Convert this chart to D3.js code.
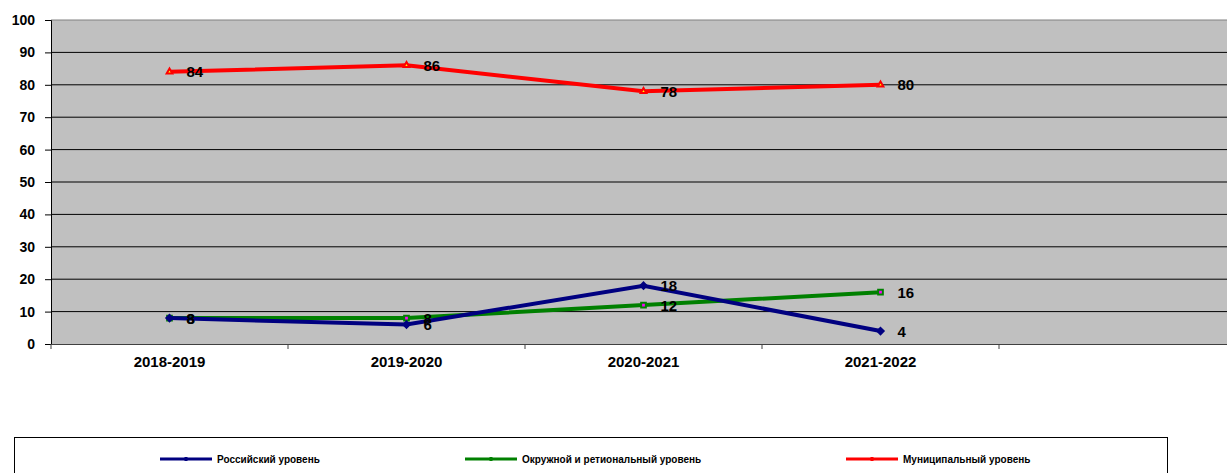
<!DOCTYPE html>
<html>
<head>
<meta charset="utf-8">
<script src="https://cdn.jsdelivr.net/npm/d3@7"></script>
<style>
  body { margin: 0; background: #fff; }
  text { font-family: "Liberation Sans", Arial, sans-serif; }
</style>
</head>
<body>
<script>
// данные
var years = ["2018-2019", "2019-2020", "2020-2021", "2021-2022", ""];
var russian = [8, 6, 18, 4];
var okrug = [8, 8, 12, 16];
var municipal = [84, 86, 78, 80];
var yTicks = [0, 10, 20, 30, 40, 50, 60, 70, 80, 90, 100];
var seriesNames = ["Российский уровень", "Окружной и ретиональный уровень", "Муниципальный уровень"];

var W = 1227, H = 473;
var m = { left: 51, top: 20, bottom: 344 };
var plotRight = 51 + 5 * 237;

var svg = d3.select("body").append("svg")
  .attr("width", W)
  .attr("height", H);

var x = d3.scaleBand().domain(years).range([m.left, plotRight]);
var y = d3.scaleLinear().domain([0, 100]).range([m.bottom, m.top]);

// фон
svg.append("rect")
  .attr("x", m.left).attr("y", m.top)
  .attr("width", plotRight - m.left).attr("height", m.bottom - m.top)
  .attr("fill", "#c0c0c0");

// сетка
svg.selectAll("line.grid")
  .data(yTicks.slice(1))
  .enter().append("line")
  .attr("x1", m.left).attr("x2", plotRight)
  .attr("y1", function(d) { return y(d); })
  .attr("y2", function(d) { return y(d); })
  .attr("stroke", function(d) { return d == 100 ? "#808080" : "#000"; })
  .attr("stroke-width", 1);

// ось Y
var yAxis = svg.append("g")
  .attr("transform", "translate(" + m.left + ",0)")
  .call(d3.axisLeft(y).tickValues(yTicks).tickSize(6).tickPadding(10));
yAxis.select(".domain").attr("stroke", "#000");
yAxis.selectAll("text").attr("font-size", 14).attr("font-weight", "bold").attr("fill", "#000");

// ось X
var xAxis = svg.append("g")
  .attr("transform", "translate(0," + m.bottom + ")")
  .call(d3.axisBottom(x).tickSize(0).tickPadding(12));
xAxis.select(".domain").attr("stroke", "#404040");
xAxis.selectAll("text").attr("font-size", 15).attr("font-weight", "bold").attr("fill", "#000");

svg.selectAll("line.xtick")
  .data(years)
  .enter().append("line")
  .attr("x1", function(d) { return x(d); })
  .attr("x2", function(d) { return x(d); })
  .attr("y1", m.bottom).attr("y2", m.bottom + 5)
  .attr("stroke", "#404040");

var cx = function(d, i) { return x(years[i]) + x.bandwidth() / 2; };
var line = d3.line()
  .x(function(d, i) { return x(years[i]) + x.bandwidth() / 2; })
  .y(function(d) { return y(d); });

var series = [
  { values: okrug, color: "#008000", marker: d3.symbolSquare, fill: "#ff00ff", size: 22 },
  { values: russian, color: "#000080", marker: d3.symbolDiamond2 || d3.symbolDiamond, fill: "#000080", size: 26 },
  { values: municipal, color: "#ff0000", marker: d3.symbolTriangle, fill: "#ffff00", size: 14 }
];

series.forEach(function(s) {
  svg.append("path")
    .datum(s.values)
    .attr("d", line)
    .attr("fill", "none")
    .attr("stroke", s.color)
    .attr("stroke-width", 4);

  svg.selectAll(null)
    .data(s.values)
    .enter().append("path")
    .attr("d", d3.symbol().type(s.marker).size(s.size))
    .attr("transform", function(d, i) { return "translate(" + cx(d, i) + "," + y(d) + ")"; })
    .attr("fill", s.fill)
    .attr("stroke", s.color)
    .attr("stroke-width", 2);
});

// подписи значений
var labelSets = [russian, okrug, municipal];
labelSets.forEach(function(vals) {
  svg.selectAll(null)
    .data(vals)
    .enter().append("text")
    .attr("x", function(d, i) { return cx(d, i) + 17; })
    .attr("y", function(d) { return y(d) + 5.5; })
    .attr("font-size", 15)
    .attr("font-weight", "bold")
    .attr("fill", "#000")
    .text(function(d) { return d; });
});

// легенда
svg.append("rect")
  .attr("x", 14.5).attr("y", 437.5)
  .attr("width", 1153).attr("height", 60)
  .attr("fill", "#fff")
  .attr("stroke", "#000");

var legendX = [160, 465, 846];
var legendColors = ["#000080", "#008000", "#ff0000"];
var leg = svg.selectAll("g.leg")
  .data(seriesNames)
  .enter().append("g")
  .attr("transform", function(d, i) { return "translate(" + legendX[i] + ",459)"; });
leg.append("line")
  .attr("x1", 0).attr("x2", 52)
  .attr("stroke", function(d, i) { return legendColors[i]; })
  .attr("stroke-width", 3);
leg.append("rect")
  .attr("x", 24.5).attr("y", -2).attr("width", 3).attr("height", 4)
  .attr("fill", function(d, i) { return legendColors[i]; });
leg.append("text")
  .attr("x", 57).attr("y", 3.5)
  .attr("font-size", 10)
  .attr("font-weight", "bold")
  .attr("fill", "#000")
  .text(function(d) { return d; });
</script>
</body>
</html>
